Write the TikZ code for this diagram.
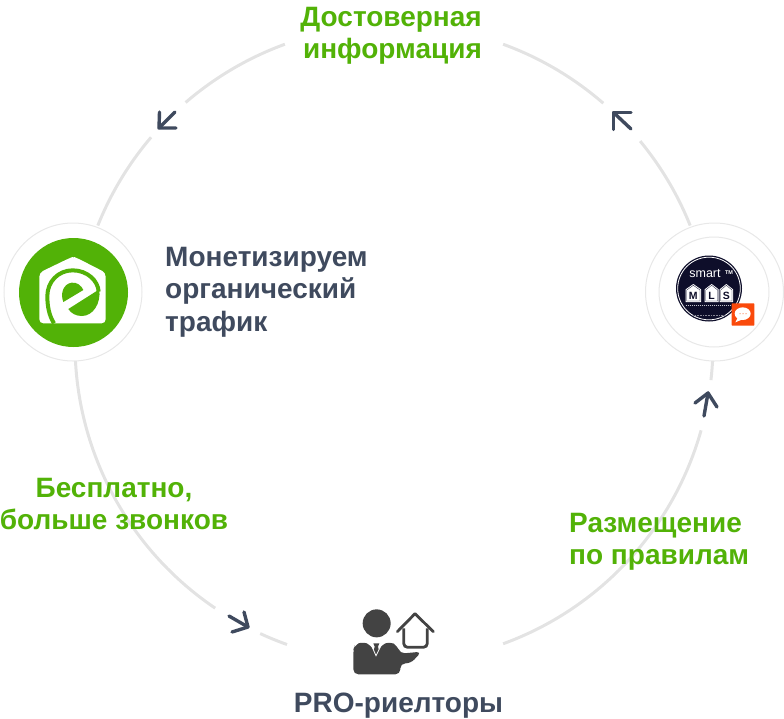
\documentclass[tikz,border=0pt]{standalone}
\usepackage{fontspec}
\setmainfont{Liberation Sans}
\definecolor{leaf}{HTML}{52B207}
\definecolor{slate}{HTML}{3F4A5E}
\definecolor{ringgrey}{HTML}{E3E3E3}
\definecolor{thin}{HTML}{E8E8E8}
\definecolor{navy}{HTML}{0E0E2A}
\definecolor{icon}{HTML}{434343}
\definecolor{chat}{HTML}{FA4A0C}
\newcommand{\arw}[4]{%
  \coordinate (t) at (#1); \coordinate (h) at (#2); \coordinate (p) at (#3); \coordinate (q) at (#4);
  \draw[arrowline] (t) -- (h); \draw[arrowline] (p) -- (h) -- (q);}
\tikzset{
  ringarc/.style={draw=ringgrey,line width=3pt},
  arrowline/.style={draw=slate,line width=3.4pt,line cap=round,line join=round},
  halo/.style={circle,draw=thin,line width=1pt,fill=white,minimum size=138pt,inner sep=0pt},
  greenlabel/.style={text=leaf,font=\fontsize{28}{32.5}\selectfont\bfseries,inner sep=0pt},
  darklabel/.style={text=slate,font=\fontsize{28}{32.5}\selectfont\bfseries,inner sep=0pt},
}
\begin{document}
\begin{tikzpicture}[x=1pt,y=-1pt]
\useasboundingbox (0,0) rectangle (784,718);
\coordinate (c) at (394,344);
% ring segments
\foreach \s/\e in {-110/-130.8,-139.6/-158.2,-70/-49,-39.5/-21.8,3/6.5,15.7/70,-176.5/-235.9,-245.2/-250.4}{
  \draw[ringarc] ([shift={(\s:319)}]c) arc[start angle=\s,end angle=\e,radius=319];
}
% arrows
\arw{175,112}{159,128}{159.5,112}{176,128}
\arw{631,129}{613.5,112.5}{613.5,129.5}{631,112.5}
\arw{704,416}{708,393}{695,403}{717,407}
\arw{229,616}{248,627}{244,612}{232,632}
% left node
\node[halo] (eh) at (73,292) {};
\fill[leaf] (73.5,292.5) circle[radius=54.5];
\begin{scope}[shift={(0,210)},x=0.33333pt,y=-0.33333pt]
  \fill[white,rounded corners=4pt] (118,188) -- (205,146) .. controls (215,142) and (225,142) .. (235,146) -- (317,188) -- (317,340) -- (118,340) -- cycle;
  \draw[leaf,line width=4pt] (162,340) .. controls (147,316) and (142,288) .. (142,258) .. controls (142,215) and (175,181) .. (218,181) .. controls (262,181) and (294,212) .. (296,245);
  \fill[leaf] (205,297) -- (298,238) .. controls (303,280) and (280,318) .. (245,318) .. controls (228,318) and (213,310) .. (205,297) -- cycle;
  \fill[leaf] (190,276) .. controls (180,250) and (190,222) .. (215,218) .. controls (232,216) and (245,228) .. (250,240) -- cycle;
\end{scope}
% right node
\node[halo] (mh) at (714.5,292) {};
\node[circle,draw=thin,line width=1pt,minimum size=110pt,inner sep=0pt] (mi) at (714,292) {};
\fill[navy] (709,288.5) circle[radius=33];
\draw[white,line width=0.8pt] (709,288.5) circle[radius=31.3];
\begin{scope}[shift={(675,255)},x=0.33333pt,y=-0.33333pt]
  \node[text=white,inner sep=0pt,font=\fontsize{12.5}{14}\selectfont] (sm) at (90,55) {smart};
  \node[text=white,inner sep=0pt,font=\fontsize{5.5}{6}\selectfont\bfseries] (tm) at (162,52) {TM};
  \foreach \xx/\L/\w in {55/M/23,110/L/21,154/S/20}{
    \fill[white] (\xx-\w,103) -- (\xx,87) -- (\xx+\w,103) -- (\xx+\w,141) -- (\xx-\w,141) -- cycle;
    \draw[navy,line width=0.3pt] (\xx-\w+3,105) -- (\xx,91) -- (\xx+\w-3,105) -- (\xx+\w-3,138) -- (\xx-\w+3,138) -- cycle;
    \node[text=navy,inner sep=0pt,font=\fontsize{10.5}{11}\selectfont\bfseries] at (\xx,122) {\L};
  }
  \draw[white!75!navy,line width=0.7pt,dash pattern=on 1.5pt off 0.5pt] (32,150) -- (175,150);
  \draw[white!50!navy,line width=0.5pt,dash pattern=on 1pt off 0.6pt] (55,180) -- (150,180);
\end{scope}
\fill[chat,rounded corners=0.7pt] (731.7,303.3) rectangle (754.3,325.7);
\begin{scope}[shift={(640,215)},x=0.33333pt,y=-0.33333pt]
  \fill[white] (308,296) ellipse[x radius=24,y radius=19];
  \fill[white] (293,308) -- (286,322) -- (310,312) -- cycle;
  \foreach \xx in {300,309,318}{\fill[chat!60!white] (\xx,296) circle[radius=2];}
\end{scope}
% bottom node
\begin{scope}[shift={(340,595)},x=0.33333pt,y=-0.33333pt]
  \coordinate (pr) at (110,85);
  \fill[icon] (pr) circle[radius=42];
  \fill[icon,rounded corners=5pt] (40,238) -- (40,165) -- (44,150) -- (68,140) -- (92,150) -- (108,178) -- (124,150) -- (150,140) -- (172,152) -- (180,176) -- (245,170) -- (212,205) -- (181,205) -- (181,238) -- cycle;
  \fill[icon] (100,145) -- (118,145) -- (114,155) -- (120,180) -- (108,190) -- (98,180) -- (104,155) -- cycle;
  \draw[white,line width=0.8pt] (92,146) -- (108,182) -- (126,146);
  \draw[icon,line width=2.8pt,line join=round,line cap=round] (172,110) -- (225,56) -- (280,110);
  \draw[icon,line width=2.8pt,rounded corners=4pt] (191,100) -- (191,157) -- (262,157) -- (262,100);
\end{scope}
% labels
\node[greenlabel,align=right,anchor=north east] (l1) at (482,7) {Достоверная\\информация};
\node[darklabel,align=left,anchor=north west] (l2) at (165,247) {Монетизируем\\органический\\трафик};
\node[greenlabel,align=center,anchor=north] (l3) at (114,478) {Бесплатно,\\больше звонков};
\node[greenlabel,align=left,anchor=north west] (l4) at (569,513) {Размещение\\по правилам};
\node[darklabel,anchor=base] (l5) at (398.5,712) {PRO-риелторы};
\end{tikzpicture}
\end{document}
